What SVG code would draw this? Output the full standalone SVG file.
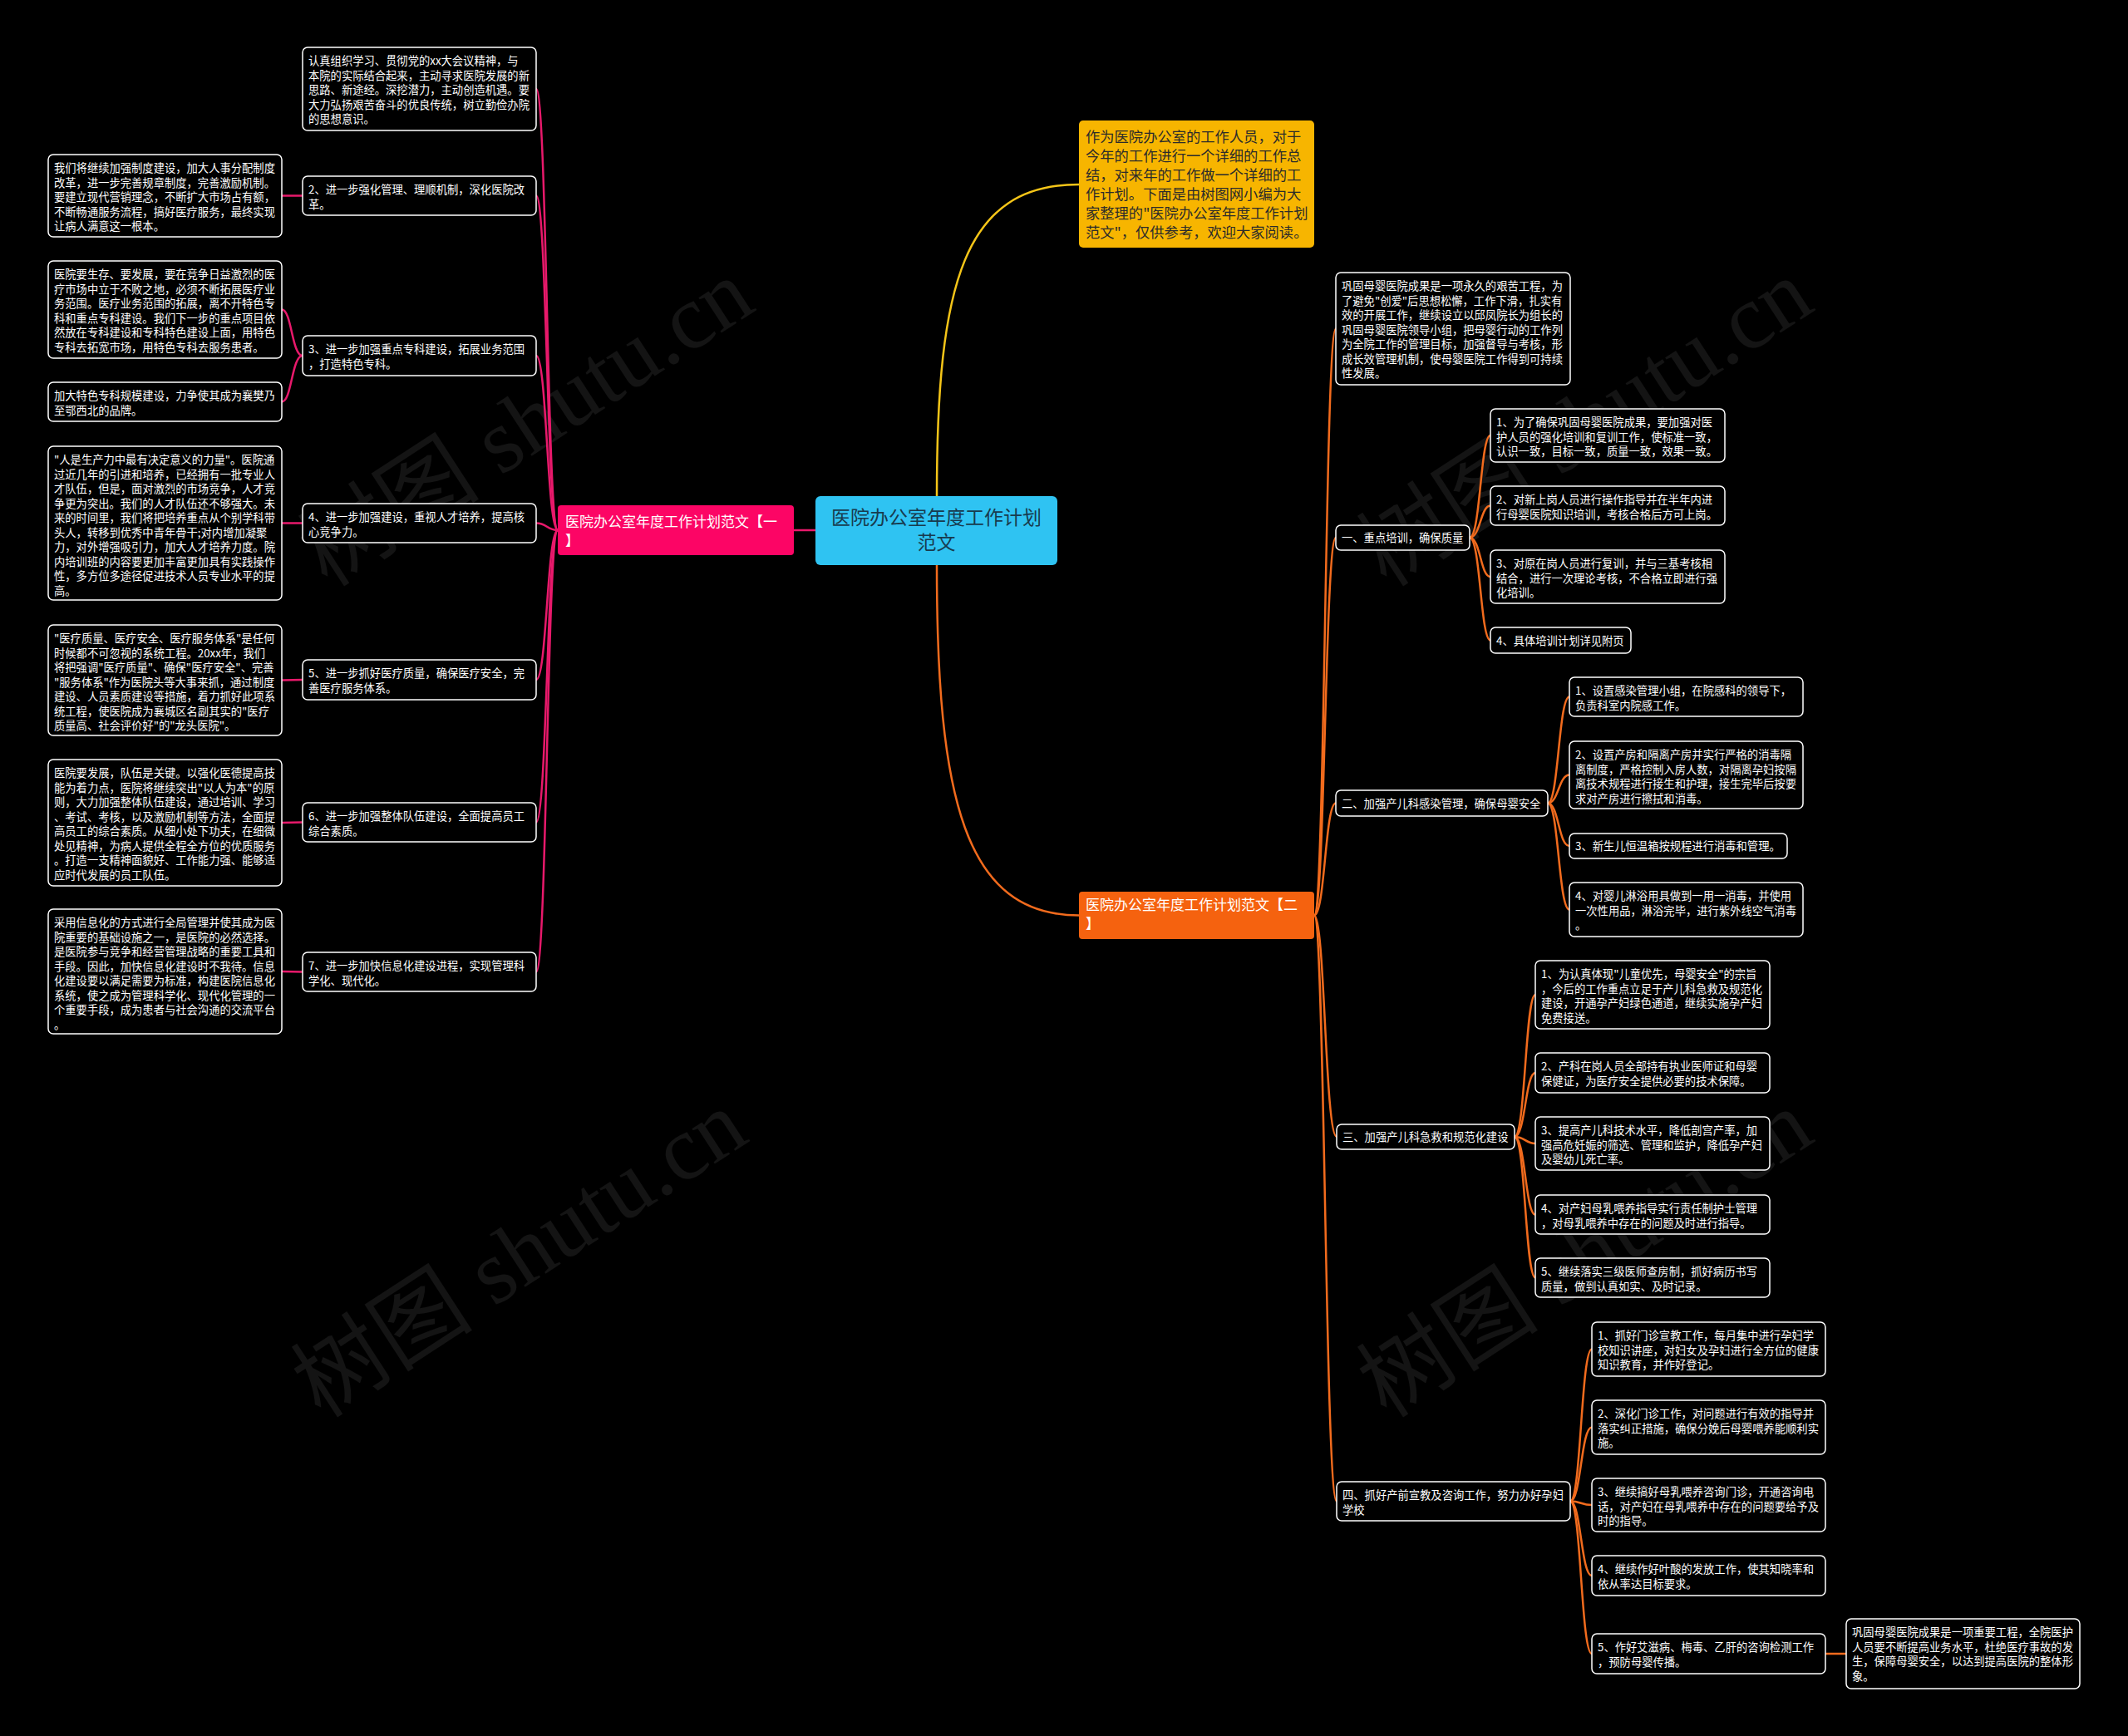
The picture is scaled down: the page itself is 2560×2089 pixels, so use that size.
<svg xmlns="http://www.w3.org/2000/svg" width="2560" height="2089" viewBox="0 0 2560 2089">
<style>
.bg{fill:#000}
.box{fill:#000;stroke:#fff;stroke-width:1.5}
.t{font-family:"Noto Sans CJK SC","Noto Sans",sans-serif;font-size:13.3px;fill:#fff}
.pk{fill:none;stroke:#e8196b;stroke-width:2.5}
.or{fill:none;stroke:#f26b1d;stroke-width:2.5}
.wm{font-family:"Liberation Serif","Noto Sans CJK SC",serif;font-size:110px;fill:#141414}
</style>
<rect class="bg" x="0" y="0" width="2560" height="2089"/>
<g id="watermarks">
<text class="wm" transform="translate(653,540) rotate(-33)" text-anchor="middle">树图 shutu.cn</text>
<text class="wm" transform="translate(645,1540) rotate(-33)" text-anchor="middle">树图 shutu.cn</text>
<text class="wm" transform="translate(1927,540) rotate(-33)" text-anchor="middle">树图 shutu.cn</text>
<text class="wm" transform="translate(1927,1540) rotate(-33)" text-anchor="middle">树图 shutu.cn</text>
</g>
<g id="connectors">
<path d="M1127 597 C1127 340 1160 222 1298 222" fill="none" stroke="#f5c518" stroke-width="2.5"/>
<path d="M1127 680 C1127 960 1160 1101.5 1298 1101.5" fill="none" stroke="#f26b1d" stroke-width="2.5"/>
<path class="pk" d="M955 638 L981 638"/>
<path class="pk" d="M671 638 C658 638 658 107 645 107"/>
<path class="pk" d="M671 638 C658 638 658 235.5 645 235.5"/>
<path class="pk" d="M671 638 C658 638 658 428 645 428"/>
<path class="pk" d="M671 638 C658 638 658 629.5 645 629.5"/>
<path class="pk" d="M671 638 C658 638 658 818 645 818"/>
<path class="pk" d="M671 638 C658 638 658 989.5 645 989.5"/>
<path class="pk" d="M671 638 C658 638 658 1169.5 645 1169.5"/>
<path class="pk" d="M364 235.5 L339 235.5"/>
<path class="pk" d="M364 428 C351 428 351 372.5 339 372.5"/>
<path class="pk" d="M364 428 C351 428 351 483.5 339 483.5"/>
<path class="pk" d="M364 629.5 L339 629.5"/>
<path class="pk" d="M364 818 L339 818.5"/>
<path class="pk" d="M364 989.5 L339 990"/>
<path class="pk" d="M364 1169.5 L339 1169"/>
<path class="or" d="M1581 1101.5 C1594 1101.5 1594 395.5 1607 395.5"/>
<path class="or" d="M1581 1101.5 C1594 1101.5 1594 647 1607 647"/>
<path class="or" d="M1581 1101.5 C1594 1101.5 1594 966.5 1607 966.5"/>
<path class="or" d="M1581 1101.5 C1594 1101.5 1594 1368 1608 1368"/>
<path class="or" d="M1581 1101.5 C1594 1101.5 1594 1806.5 1608 1806.5"/>
<path class="or" d="M1768 647 C1781 647 1781 524 1793 524"/>
<path class="or" d="M1768 647 C1781 647 1781 608.5 1793 608.5"/>
<path class="or" d="M1768 647 C1781 647 1781 694 1793 694"/>
<path class="or" d="M1768 647 C1781 647 1781 770.5 1793 770.5"/>
<path class="or" d="M1862 966.5 C1875 966.5 1875 838.5 1888 838.5"/>
<path class="or" d="M1862 966.5 C1875 966.5 1875 932.5 1888 932.5"/>
<path class="or" d="M1862 966.5 C1875 966.5 1875 1018 1888 1018"/>
<path class="or" d="M1862 966.5 C1875 966.5 1875 1094.5 1888 1094.5"/>
<path class="or" d="M1822 1368 C1835 1368 1835 1197 1847 1197"/>
<path class="or" d="M1822 1368 C1835 1368 1835 1291 1847 1291"/>
<path class="or" d="M1822 1368 C1835 1368 1835 1376 1847 1376"/>
<path class="or" d="M1822 1368 C1835 1368 1835 1461.5 1847 1461.5"/>
<path class="or" d="M1822 1368 C1835 1368 1835 1537.5 1847 1537.5"/>
<path class="or" d="M1889 1806.5 C1902 1806.5 1902 1623.5 1915 1623.5"/>
<path class="or" d="M1889 1806.5 C1902 1806.5 1902 1717.5 1915 1717.5"/>
<path class="or" d="M1889 1806.5 C1902 1806.5 1902 1811 1915 1811"/>
<path class="or" d="M1889 1806.5 C1902 1806.5 1902 1896 1915 1896"/>
<path class="or" d="M1889 1806.5 C1902 1806.5 1902 1990 1915 1990"/>
<path class="or" d="M2196 1990 L2221 1990"/>
</g>
<g id="root">
<rect x="981" y="597" width="291" height="83" rx="6" fill="#2fc3f2"/>
<text font-family="'Noto Sans CJK SC',sans-serif" font-size="23" fill="#183b4e" text-anchor="middle"><tspan x="1126.5" y="631">医院办公室年度工作计划</tspan><tspan x="1126.5" y="661">范文</tspan></text>
</g>
<g id="intro">
<rect x="1298" y="145" width="283" height="153" rx="5" fill="#f7b500"/>
<text font-family="'Noto Sans CJK SC',sans-serif" font-size="17.3" fill="#2b2b2b"><tspan x="1306" y="171">作为医院办公室的工作人员，对于</tspan><tspan x="1306" y="194">今年的工作进行一个详细的工作总</tspan><tspan x="1306" y="217">结，对来年的工作做一个详细的工</tspan><tspan x="1306" y="240">作计划。下面是由树图网小编为大</tspan><tspan x="1306" y="263">家整理的"医院办公室年度工作计划</tspan><tspan x="1306" y="286">范文"，仅供参考，欢迎大家阅读。</tspan></text>
</g>
<g id="branch1">
<rect x="671" y="608" width="284" height="60" rx="4" fill="#fc0565"/>
<text font-family="'Noto Sans CJK SC',sans-serif" font-size="17" fill="#fff"><tspan x="680" y="634">医院办公室年度工作计划范文【一</tspan><tspan x="680" y="657">】</tspan></text>
</g>
<g id="branch2">
<rect x="1298" y="1073" width="283" height="57" rx="4" fill="#f5620f"/>
<text font-family="'Noto Sans CJK SC',sans-serif" font-size="17" fill="#fff"><tspan x="1306" y="1095">医院办公室年度工作计划范文【二</tspan><tspan x="1306" y="1118">】</tspan></text>
</g>
<g id="b1-a">
<rect class="box" x="364" y="57" width="281" height="100" rx="6"/>
<text class="t"><tspan x="371" y="78">认真组织学习、贯彻党的xx大会议精神，与</tspan><tspan x="371" y="95.5">本院的实际结合起来，主动寻求医院发展的新</tspan><tspan x="371" y="113">思路、新途经。深挖潜力，主动创造机遇。要</tspan><tspan x="371" y="130.5">大力弘扬艰苦奋斗的优良传统，树立勤俭办院</tspan><tspan x="371" y="148">的思想意识。</tspan></text>
</g>
<g id="b1-2">
<rect class="box" x="364" y="212" width="281" height="47" rx="6"/>
<text class="t"><tspan x="371" y="233">2、进一步强化管理、理顺机制，深化医院改</tspan><tspan x="371" y="250.5">革。</tspan></text>
</g>
<g id="b1-2a">
<rect class="box" x="58" y="186" width="281" height="99" rx="6"/>
<text class="t"><tspan x="65" y="207">我们将继续加强制度建设，加大人事分配制度</tspan><tspan x="65" y="224.5">改革，进一步完善规章制度，完善激励机制。</tspan><tspan x="65" y="242">要建立现代营销理念，不断扩大市场占有额，</tspan><tspan x="65" y="259.5">不断畅通服务流程，搞好医疗服务，最终实现</tspan><tspan x="65" y="277">让病人满意这一根本。</tspan></text>
</g>
<g id="b1-3">
<rect class="box" x="364" y="404" width="281" height="48" rx="6"/>
<text class="t"><tspan x="371" y="425">3、进一步加强重点专科建设，拓展业务范围</tspan><tspan x="371" y="442.5">，打造特色专科。</tspan></text>
</g>
<g id="b1-3a">
<rect class="box" x="58" y="314" width="281" height="117" rx="6"/>
<text class="t"><tspan x="65" y="335">医院要生存、要发展，要在竞争日益激烈的医</tspan><tspan x="65" y="352.5">疗市场中立于不败之地，必须不断拓展医疗业</tspan><tspan x="65" y="370">务范围。医疗业务范围的拓展，离不开特色专</tspan><tspan x="65" y="387.5">科和重点专科建设。我们下一步的重点项目依</tspan><tspan x="65" y="405">然放在专科建设和专科特色建设上面，用特色</tspan><tspan x="65" y="422.5">专科去拓宽市场，用特色专科去服务患者。</tspan></text>
</g>
<g id="b1-3b">
<rect class="box" x="58" y="460" width="281" height="47" rx="6"/>
<text class="t"><tspan x="65" y="481">加大特色专科规模建设，力争使其成为襄樊乃</tspan><tspan x="65" y="498.5">至鄂西北的品牌。</tspan></text>
</g>
<g id="b1-4">
<rect class="box" x="364" y="606" width="281" height="47" rx="6"/>
<text class="t"><tspan x="371" y="627">4、进一步加强建设，重视人才培养，提高核</tspan><tspan x="371" y="644.5">心竞争力。</tspan></text>
</g>
<g id="b1-4a">
<rect class="box" x="58" y="537" width="281" height="185" rx="6"/>
<text class="t"><tspan x="65" y="558">"人是生产力中最有决定意义的力量"。医院通</tspan><tspan x="65" y="575.5">过近几年的引进和培养，已经拥有一批专业人</tspan><tspan x="65" y="593">才队伍，但是，面对激烈的市场竞争，人才竞</tspan><tspan x="65" y="610.5">争更为突出。我们的人才队伍还不够强大。未</tspan><tspan x="65" y="628">来的时间里，我们将把培养重点从个别学科带</tspan><tspan x="65" y="645.5">头人，转移到优秀中青年骨干;对内增加凝聚</tspan><tspan x="65" y="663">力，对外增强吸引力，加大人才培养力度。院</tspan><tspan x="65" y="680.5">内培训班的内容要更加丰富更加具有实践操作</tspan><tspan x="65" y="698">性，多方位多途径促进技术人员专业水平的提</tspan><tspan x="65" y="715.5">高。</tspan></text>
</g>
<g id="b1-5">
<rect class="box" x="364" y="794" width="281" height="48" rx="6"/>
<text class="t"><tspan x="371" y="815">5、进一步抓好医疗质量，确保医疗安全，完</tspan><tspan x="371" y="832.5">善医疗服务体系。</tspan></text>
</g>
<g id="b1-5a">
<rect class="box" x="58" y="752" width="281" height="133" rx="6"/>
<text class="t"><tspan x="65" y="773">"医疗质量、医疗安全、医疗服务体系"是任何</tspan><tspan x="65" y="790.5">时候都不可忽视的系统工程。20xx年，我们</tspan><tspan x="65" y="808">将把强调"医疗质量"、确保"医疗安全"、完善</tspan><tspan x="65" y="825.5">"服务体系"作为医院头等大事来抓，通过制度</tspan><tspan x="65" y="843">建设、人员素质建设等措施，着力抓好此项系</tspan><tspan x="65" y="860.5">统工程，使医院成为襄城区名副其实的"医疗</tspan><tspan x="65" y="878">质量高、社会评价好"的"龙头医院"。</tspan></text>
</g>
<g id="b1-6">
<rect class="box" x="364" y="966" width="281" height="47" rx="6"/>
<text class="t"><tspan x="371" y="987">6、进一步加强整体队伍建设，全面提高员工</tspan><tspan x="371" y="1004.5">综合素质。</tspan></text>
</g>
<g id="b1-6a">
<rect class="box" x="58" y="914" width="281" height="152" rx="6"/>
<text class="t"><tspan x="65" y="935">医院要发展，队伍是关键。以强化医德提高技</tspan><tspan x="65" y="952.5">能为着力点，医院将继续突出"以人为本"的原</tspan><tspan x="65" y="970">则，大力加强整体队伍建设，通过培训、学习</tspan><tspan x="65" y="987.5">、考试、考核，以及激励机制等方法，全面提</tspan><tspan x="65" y="1005">高员工的综合素质。从细小处下功夫，在细微</tspan><tspan x="65" y="1022.5">处见精神，为病人提供全程全方位的优质服务</tspan><tspan x="65" y="1040">。打造一支精神面貌好、工作能力强、能够适</tspan><tspan x="65" y="1057.5">应时代发展的员工队伍。</tspan></text>
</g>
<g id="b1-7">
<rect class="box" x="364" y="1146" width="281" height="47" rx="6"/>
<text class="t"><tspan x="371" y="1167">7、进一步加快信息化建设进程，实现管理科</tspan><tspan x="371" y="1184.5">学化、现代化。</tspan></text>
</g>
<g id="b1-7a">
<rect class="box" x="58" y="1094" width="281" height="150" rx="6"/>
<text class="t"><tspan x="65" y="1115">采用信息化的方式进行全局管理并使其成为医</tspan><tspan x="65" y="1132.5">院重要的基础设施之一，是医院的必然选择。</tspan><tspan x="65" y="1150">是医院参与竞争和经营管理战略的重要工具和</tspan><tspan x="65" y="1167.5">手段。因此，加快信息化建设时不我待。信息</tspan><tspan x="65" y="1185">化建设要以满足需要为标准，构建医院信息化</tspan><tspan x="65" y="1202.5">系统，使之成为管理科学化、现代化管理的一</tspan><tspan x="65" y="1220">个重要手段，成为患者与社会沟通的交流平台</tspan><tspan x="65" y="1237.5">。</tspan></text>
</g>
<g id="b2-0">
<rect class="box" x="1607" y="328" width="282" height="135" rx="6"/>
<text class="t"><tspan x="1614" y="349">巩固母婴医院成果是一项永久的艰苦工程，为</tspan><tspan x="1614" y="366.5">了避免"创爱"后思想松懈，工作下滑，扎实有</tspan><tspan x="1614" y="384">效的开展工作，继续设立以邱凤院长为组长的</tspan><tspan x="1614" y="401.5">巩固母婴医院领导小组，把母婴行动的工作列</tspan><tspan x="1614" y="419">为全院工作的管理目标，加强督导与考核，形</tspan><tspan x="1614" y="436.5">成长效管理机制，使母婴医院工作得到可持续</tspan><tspan x="1614" y="454">性发展。</tspan></text>
</g>
<g id="b2-1">
<rect class="box" x="1607" y="632" width="161" height="30" rx="6"/>
<text class="t" x="1614" y="652">一、重点培训，确保质量</text>
</g>
<g id="b2-1a">
<rect class="box" x="1793" y="492" width="282" height="64" rx="6"/>
<text class="t"><tspan x="1800" y="513">1、为了确保巩固母婴医院成果，要加强对医</tspan><tspan x="1800" y="530.5">护人员的强化培训和复训工作，使标准一致，</tspan><tspan x="1800" y="548">认识一致，目标一致，质量一致，效果一致。</tspan></text>
</g>
<g id="b2-1b">
<rect class="box" x="1793" y="585" width="282" height="47" rx="6"/>
<text class="t"><tspan x="1800" y="606">2、对新上岗人员进行操作指导并在半年内进</tspan><tspan x="1800" y="623.5">行母婴医院知识培训，考核合格后方可上岗。</tspan></text>
</g>
<g id="b2-1c">
<rect class="box" x="1793" y="662" width="282" height="64" rx="6"/>
<text class="t"><tspan x="1800" y="683">3、对原在岗人员进行复训，并与三基考核相</tspan><tspan x="1800" y="700.5">结合，进行一次理论考核，不合格立即进行强</tspan><tspan x="1800" y="718">化培训。</tspan></text>
</g>
<g id="b2-1d">
<rect class="box" x="1793" y="755" width="169" height="31" rx="6"/>
<text class="t" x="1800" y="776">4、具体培训计划详见附页</text>
</g>
<g id="b2-2">
<rect class="box" x="1607" y="951" width="255" height="31" rx="6"/>
<text class="t" x="1614" y="971.5">二、加强产儿科感染管理，确保母婴安全</text>
</g>
<g id="b2-2a">
<rect class="box" x="1888" y="815" width="281" height="47" rx="6"/>
<text class="t"><tspan x="1895" y="836">1、设置感染管理小组，在院感科的领导下，</tspan><tspan x="1895" y="853.5">负责科室内院感工作。</tspan></text>
</g>
<g id="b2-2b">
<rect class="box" x="1888" y="892" width="281" height="81" rx="6"/>
<text class="t"><tspan x="1895" y="913">2、设置产房和隔离产房并实行严格的消毒隔</tspan><tspan x="1895" y="930.5">离制度，严格控制入房人数，对隔离孕妇按隔</tspan><tspan x="1895" y="948">离技术规程进行接生和护理，接生完毕后按要</tspan><tspan x="1895" y="965.5">求对产房进行擦拭和消毒。</tspan></text>
</g>
<g id="b2-2c">
<rect class="box" x="1888" y="1003" width="262" height="30" rx="6"/>
<text class="t" x="1895" y="1023">3、新生儿恒温箱按规程进行消毒和管理。</text>
</g>
<g id="b2-2d">
<rect class="box" x="1888" y="1062" width="281" height="65" rx="6"/>
<text class="t"><tspan x="1895" y="1083">4、对婴儿淋浴用具做到一用一消毒，并使用</tspan><tspan x="1895" y="1100.5">一次性用品，淋浴完毕，进行紫外线空气消毒</tspan><tspan x="1895" y="1118">。</tspan></text>
</g>
<g id="b2-3">
<rect class="box" x="1608" y="1353" width="214" height="30" rx="6"/>
<text class="t" x="1615" y="1373">三、加强产儿科急救和规范化建设</text>
</g>
<g id="b2-3a">
<rect class="box" x="1847" y="1156" width="282" height="82" rx="6"/>
<text class="t"><tspan x="1854" y="1177">1、为认真体现"儿童优先，母婴安全"的宗旨</tspan><tspan x="1854" y="1194.5">，今后的工作重点立足于产儿科急救及规范化</tspan><tspan x="1854" y="1212">建设，开通孕产妇绿色通道，继续实施孕产妇</tspan><tspan x="1854" y="1229.5">免费接送。</tspan></text>
</g>
<g id="b2-3b">
<rect class="box" x="1847" y="1267" width="282" height="48" rx="6"/>
<text class="t"><tspan x="1854" y="1288">2、产科在岗人员全部持有执业医师证和母婴</tspan><tspan x="1854" y="1305.5">保健证，为医疗安全提供必要的技术保障。</tspan></text>
</g>
<g id="b2-3c">
<rect class="box" x="1847" y="1344" width="282" height="64" rx="6"/>
<text class="t"><tspan x="1854" y="1365">3、提高产儿科技术水平，降低剖宫产率，加</tspan><tspan x="1854" y="1382.5">强高危妊娠的筛选、管理和监护，降低孕产妇</tspan><tspan x="1854" y="1400">及婴幼儿死亡率。</tspan></text>
</g>
<g id="b2-3d">
<rect class="box" x="1847" y="1438" width="282" height="47" rx="6"/>
<text class="t"><tspan x="1854" y="1459">4、对产妇母乳喂养指导实行责任制护士管理</tspan><tspan x="1854" y="1476.5">，对母乳喂养中存在的问题及时进行指导。</tspan></text>
</g>
<g id="b2-3e">
<rect class="box" x="1847" y="1514" width="282" height="47" rx="6"/>
<text class="t"><tspan x="1854" y="1535">5、继续落实三级医师查房制，抓好病历书写</tspan><tspan x="1854" y="1552.5">质量，做到认真如实、及时记录。</tspan></text>
</g>
<g id="b2-4">
<rect class="box" x="1608" y="1783" width="281" height="47" rx="6"/>
<text class="t"><tspan x="1615" y="1804">四、抓好产前宣教及咨询工作，努力办好孕妇</tspan><tspan x="1615" y="1821.5">学校</tspan></text>
</g>
<g id="b2-4a">
<rect class="box" x="1915" y="1591" width="281" height="65" rx="6"/>
<text class="t"><tspan x="1922" y="1612">1、抓好门诊宣教工作，每月集中进行孕妇学</tspan><tspan x="1922" y="1629.5">校知识讲座，对妇女及孕妇进行全方位的健康</tspan><tspan x="1922" y="1647">知识教育，并作好登记。</tspan></text>
</g>
<g id="b2-4b">
<rect class="box" x="1915" y="1685" width="281" height="65" rx="6"/>
<text class="t"><tspan x="1922" y="1706">2、深化门诊工作，对问题进行有效的指导并</tspan><tspan x="1922" y="1723.5">落实纠正措施，确保分娩后母婴喂养能顺利实</tspan><tspan x="1922" y="1741">施。</tspan></text>
</g>
<g id="b2-4c">
<rect class="box" x="1915" y="1779" width="281" height="64" rx="6"/>
<text class="t"><tspan x="1922" y="1800">3、继续搞好母乳喂养咨询门诊，开通咨询电</tspan><tspan x="1922" y="1817.5">话，对产妇在母乳喂养中存在的问题要给予及</tspan><tspan x="1922" y="1835">时的指导。</tspan></text>
</g>
<g id="b2-4d">
<rect class="box" x="1915" y="1872" width="281" height="48" rx="6"/>
<text class="t"><tspan x="1922" y="1893">4、继续作好叶酸的发放工作，使其知晓率和</tspan><tspan x="1922" y="1910.5">依从率达目标要求。</tspan></text>
</g>
<g id="b2-4e">
<rect class="box" x="1915" y="1966" width="281" height="48" rx="6"/>
<text class="t"><tspan x="1922" y="1987">5、作好艾滋病、梅毒、乙肝的咨询检测工作</tspan><tspan x="1922" y="2004.5">，预防母婴传播。</tspan></text>
</g>
<g id="b2-4e1">
<rect class="box" x="2221" y="1948" width="281" height="84" rx="6"/>
<text class="t"><tspan x="2228" y="1969">巩固母婴医院成果是一项重要工程，全院医护</tspan><tspan x="2228" y="1986.5">人员要不断提高业务水平，杜绝医疗事故的发</tspan><tspan x="2228" y="2004">生，保障母婴安全，以达到提高医院的整体形</tspan><tspan x="2228" y="2021.5">象。</tspan></text>
</g>
</svg>
